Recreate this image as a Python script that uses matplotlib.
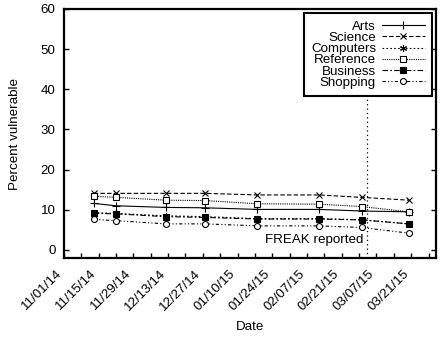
import matplotlib
matplotlib.use("Agg")
import matplotlib.pyplot as plt
import matplotlib.dates as mdates
import numpy as np
import datetime as dt

plt.rcParams['font.family'] = ['Liberation Sans', 'DejaVu Sans']

dates = ["2014-11-13", "2014-11-22", "2014-12-12", "2014-12-28",
         "2015-01-18", "2015-02-12", "2015-03-01", "2015-03-20"]
arts = [11.6, 11.0, 10.6, 10.5, 10.1, 10.1, 9.7, 9.5]
science = [14.1, 14.1, 14.1, 14.1, 13.7, 13.7, 13.1, 12.4]
computers = [9.3, 9.1, 8.5, 8.3, 7.8, 7.8, 7.5, 6.5]
reference = [13.4, 13.1, 12.4, 12.3, 11.5, 11.4, 10.8, 9.5]
business = [9.1, 9.0, 8.3, 8.1, 7.7, 7.7, 7.5, 6.5]
shopping = [7.6, 7.3, 6.5, 6.5, 6.0, 6.0, 5.6, 4.2]
freak_date = "2015-03-03"
freak_label = "FREAK reported"

x = [dt.datetime.strptime(d, "%Y-%m-%d") for d in dates]

fig = plt.figure(figsize=(4.41, 3.37), dpi=100)
ax = fig.add_axes([0.145, 0.2344, 0.8437, 0.7389])

fs = 9.6
series = [
    ("Arts", arts, dict(linestyle='-', marker='+', markersize=6, mfc='black')),
    ("Science", science, dict(linestyle=(0, (4, 2)), marker='x', markersize=4.5, mfc='black')),
    ("Computers", computers, dict(linestyle=(0, (1.5, 2)), marker=(6, 2, 0), markersize=5, mfc='black')),
    ("Reference", reference, dict(linestyle=(0, (1, 1)), marker='s', markersize=4.3, mfc='white')),
    ("Business", business, dict(linestyle=(0, (5, 2, 1.5, 2)), marker='s', markersize=4.5, mfc='black')),
    ("Shopping", shopping, dict(linestyle=(0, (3, 2, 1, 2, 1, 2)), marker='o', markersize=4.3, mfc='white')),
]
for name, vals, st in series:
    ax.plot(x, vals, color='black', linewidth=0.8, mec='black', mew=0.8,
            label=name, **st)

fd = dt.datetime.strptime(freak_date, "%Y-%m-%d")
ax.axvline(fd, color='black', linestyle=(0, (1, 2.5)), linewidth=0.9, zorder=1)
ax.text(fd - dt.timedelta(days=1.3), 2.6, freak_label, ha='right', va='center',
        fontsize=fs)

ax.set_xlim(dt.datetime(2014, 11, 1), dt.datetime(2015, 3, 31))
ax.set_ylim(-2, 60)
ax.set_yticks(np.arange(0, 61, 10))

start = dt.datetime(2014, 11, 1)
major = [start + dt.timedelta(days=14 * i) for i in range(11)]
minor = [start + dt.timedelta(days=7 + 14 * i) for i in range(11)]
ax.set_xticks(major)
ax.set_xticks(minor, minor=True)
ax.xaxis.set_major_formatter(mdates.DateFormatter('%m/%d/%y'))
for lab in ax.get_xticklabels():
    lab.set_rotation(45)
    lab.set_ha('right')

ax.tick_params(axis='x', which='both', direction='in', length=3.5, width=1,
               top=False, labelsize=fs, pad=7)
ax.tick_params(axis='y', which='both', direction='in', length=3.5, width=1,
               right=True, labelsize=fs, pad=6)
for s in ax.spines.values():
    s.set_linewidth(1.6)

ax.set_xlabel("Date", fontsize=fs, labelpad=6)
ax.set_ylabel("Percent vulnerable", fontsize=fs, labelpad=14)

leg = ax.legend(loc='upper right', markerfirst=False, fontsize=fs,
                frameon=True, fancybox=False, framealpha=1, edgecolor='black',
                handlelength=3.2, handletextpad=0.45, labelspacing=-0.08,
                borderpad=0.55, borderaxespad=0.3)
leg.get_frame().set_linewidth(1.5)
leg.set_zorder(5)

fig.savefig("out.png", dpi=100)
